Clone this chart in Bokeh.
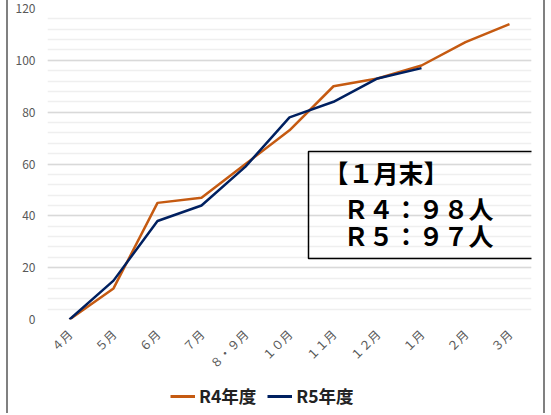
from bokeh.plotting import figure
from bokeh.layouts import column
from bokeh.models import (Legend, LegendItem, Label, BoxAnnotation, SingleIntervalTicker,
                          Range1d, FactorRange)
from bokeh.embed import file_html
from bokeh.resources import INLINE
import math

months = ["４月", "５月", "６月", "７月", "８・９月", "１０月", "１１月", "１２月", "１月", "２月", "３月"]
r4 = [0, 12, 45, 47, 60, 73, 90, 93, 98, 107, 114]
r5 = [0, 15, 38, 44, 59, 78, 84, 93, 97]
series_names = ["R4年度", "R5年度"]
series_colors = ["#C55A11", "#002060"]
box_lines = ["【１月末】", "Ｒ４：９８人", "Ｒ５：９７人"]

FONT = "Noto Sans CJK JP"
BORDER = {"border-left": "2px solid #808080", "border-right": "2px solid #808080",
          "margin-left": "6px"}

p = figure(width=539, height=380, x_range=FactorRange(*months), y_range=Range1d(0, 120),
           output_backend="svg", toolbar_location=None,
           min_border_left=39, min_border_right=16, min_border_top=8, min_border_bottom=61)
p.styles = BORDER
p.outline_line_color = None
p.background_fill_color = "white"
p.border_fill_color = "white"

# grids
p.xgrid.grid_line_color = None
p.yaxis.ticker = SingleIntervalTicker(interval=20, num_minor_ticks=5)
p.ygrid.grid_line_color = "#d9d9d9"
p.ygrid.grid_line_width = 1.5
p.ygrid.minor_grid_line_color = "#efefef"
p.ygrid.minor_grid_line_width = 1.5

# axes
for ax in (p.xaxis, p.yaxis):
    ax.axis_line_color = None
    ax.major_tick_line_color = None
    ax.minor_tick_line_color = None
    ax.major_tick_out = 0
    ax.minor_tick_out = 0
    ax.major_label_text_color = "#595959"
    ax.major_label_text_font = FONT
p.yaxis.major_label_text_font_size = "12px"
p.yaxis.major_label_standoff = 12
p.xaxis.major_label_text_font_size = "12px"
p.xaxis.major_label_orientation = math.pi / 4
p.xaxis.major_label_standoff = 12

l4 = p.line(months, r4, line_color=series_colors[0], line_width=2.5)
l5 = p.line(months[:len(r5)], r5, line_color=series_colors[1], line_width=2.5)

box = BoxAnnotation(left=261, right=486, bottom=61, top=168,
                    left_units="screen", right_units="screen",
                    bottom_units="screen", top_units="screen",
                    fill_color=None, fill_alpha=0, line_color="#000000", line_alpha=1.0,
                    line_width=1.5)
p.add_layout(box)

positions = [(276, 148), (296, 112), (296, 85)]
for txt, (lx, ly) in zip(box_lines, positions):
    p.add_layout(Label(x=lx, y=ly, x_units="screen", y_units="screen", text=txt,
                       text_font=FONT, text_font_size="25px", text_font_style="bold",
                       text_color="#000000", text_baseline="middle", text_align="left"))

# legend strip below the chart
p2 = figure(width=539, height=33, x_range=Range1d(0, 1), y_range=Range1d(0, 1),
            output_backend="svg", toolbar_location=None, x_axis_type=None, y_axis_type=None,
            min_border=0)
p2.styles = BORDER
p2.outline_line_color = None
p2.grid.visible = False
lg = [p2.line([-5, -4], [-5, -4], line_color=c, line_width=3) for c in series_colors]
legend = Legend(items=[LegendItem(label=n, renderers=[r]) for n, r in zip(series_names, lg)],
                location=(123, 5), orientation="horizontal",
                label_text_font=FONT, label_text_font_size="17.5px", label_text_font_style="bold",
                label_text_color="#222222", glyph_width=25, spacing=11, padding=2, margin=0,
                border_line_color=None, background_fill_alpha=0, label_standoff=4)
p2.add_layout(legend, "center")

layout = column(p, p2, spacing=0)
open("out.html", "w").write(file_html(layout, INLINE))
